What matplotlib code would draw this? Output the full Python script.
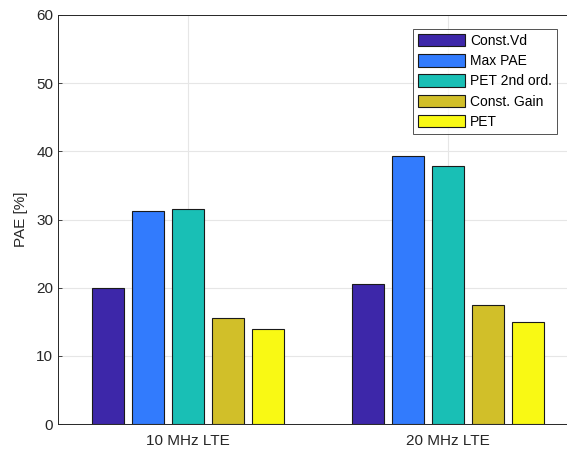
import numpy as np
import matplotlib
matplotlib.use("Agg")
import matplotlib.pyplot as plt

plt.rcParams['font.family'] = ['Liberation Sans', 'DejaVu Sans']

categories = ["10 MHz LTE", "20 MHz LTE"]
series_names = ["Const.Vd", "Max PAE", "PET 2nd ord.", "Const. Gain", "PET"]
const_vd = [19.9, 20.6]
max_pae = [31.3, 39.3]
pet_2nd = [31.5, 37.9]
const_gain = [15.5, 17.4]
pet = [14.0, 14.9]
series_values = [const_vd, max_pae, pet_2nd, const_gain, pet]
colors = ["#3d27a9", "#327bfd", "#19bfb5", "#d1bf29", "#f9f914"]

fig = plt.figure(figsize=(5.67, 4.49), dpi=100)
ax = fig.add_axes([58/567, 25/449, 520/567, 409/449])

n = len(series_names)
group_width = min(0.8, n / (n + 1.5))
step = group_width / n
bar_w = 0.8 * step
x = np.arange(1, len(categories) + 1)
for i, (name, vals, c) in enumerate(zip(series_names, series_values, colors)):
    offs = (i - (n - 1) / 2) * step
    ax.bar(x + offs, vals, width=bar_w, color=c, edgecolor="#1a1a1a",
           linewidth=0.8, label=name, zorder=3)

ax.set_xlim(0.5, 2.5)
ax.set_ylim(0, 60)
ax.set_xticks(x)
ax.set_xticklabels(categories)
ax.set_yticks(np.arange(0, 61, 10))
ax.set_ylabel("PAE [%]", fontsize=11, color="#262626", labelpad=6)
ax.grid(True, color="#e6e6e6", linewidth=0.8, zorder=0)
ax.tick_params(axis="both", labelsize=11, colors="#262626", direction="in",
               length=3, width=0.6)
ax.tick_params(axis="x", pad=7)
for side in ["left", "bottom", "top", "right"]:
    ax.spines[side].set_color("#262626")
    ax.spines[side].set_linewidth(0.7)

leg = ax.legend(loc="upper left", bbox_to_anchor=(355/520, (424 - 29)/409),
                fontsize=10, frameon=True, fancybox=False, edgecolor="#262626",
                handlelength=3.4, handleheight=1.0, handletextpad=0.35,
                labelspacing=0.45, borderpad=0.35, borderaxespad=0)
leg.get_frame().set_linewidth(0.7)

fig.savefig("out.png", dpi=100)
